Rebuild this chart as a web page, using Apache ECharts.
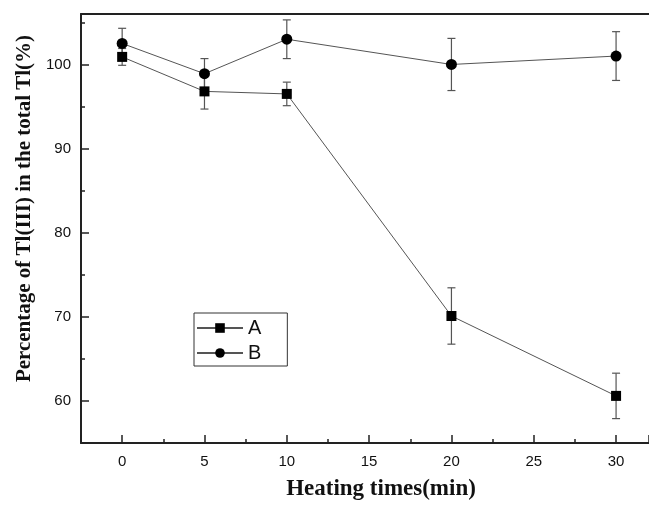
<!DOCTYPE html>
<html><head><meta charset="utf-8">
<script src="https://cdn.jsdelivr.net/npm/echarts@6/dist/echarts.min.js"></script>
<style>html,body{margin:0;padding:0;background:#fff}#c{width:649px;height:506px}</style>
</head><body><div id="c"></div>
<script>
const times = [0, 5, 10, 20, 30];
const seriesA = [100.9, 96.8, 96.5, 70.1, 60.6];
const errA = [1.0, 2.1, 1.4, 3.35, 2.7];
const seriesB = [102.5, 98.9, 103.0, 100.0, 101.0];
const errB = [1.8, 1.8, 2.3, 3.1, 2.9];
const xName = 'Heating times(min)';
const yName = 'Percentage of Tl(III) in the total Tl(%)';

const chart = echarts.init(document.getElementById('c'), null, {renderer: 'canvas'});
function errData(vals, errs) { return times.map((t, i) => [t, vals[i] - errs[i], vals[i] + errs[i]]); }
function renderErr(params, api) {
  const x = api.value(0);
  const lo = api.coord([x, api.value(1)]);
  const hi = api.coord([x, api.value(2)]);
  const w = 4;
  const style = {stroke: '#555', lineWidth: 1.2};
  return {type: 'group', children: [
    {type: 'line', shape: {x1: lo[0], y1: lo[1], x2: hi[0], y2: hi[1]}, style},
    {type: 'line', shape: {x1: lo[0] - w, y1: lo[1], x2: lo[0] + w, y2: lo[1]}, style},
    {type: 'line', shape: {x1: hi[0] - w, y1: hi[1], x2: hi[0] + w, y2: hi[1]}, style}
  ]};
}
const axisColor = '#222';
const option = {
  animation: false,
  backgroundColor: '#fff',
  grid: {left: 81, top: 14, right: 0, height: 432},
  legend: {
    data: ['A', 'B'], orient: 'vertical', left: 194, top: 313,
    itemWidth: 46, itemHeight: 12, itemGap: 5, padding: [5, 26, 3, 2],
    borderColor: '#333', borderWidth: 1,
    textStyle: {fontSize: 20, fontFamily: 'Liberation Sans', color: '#111', lineHeight: 20}
  },
  xAxis: [{
    type: 'value', min: -2.5, max: 32, splitNumber: 7,
    axisLine: {onZero: false, lineStyle: {color: axisColor, width: 2}},
    axisTick: {inside: true, length: 8, lineStyle: {color: axisColor, width: 1.5}},
    minorTick: {show: true, splitNumber: 2, length: 4, lineStyle: {color: axisColor, width: 1.5}},
    splitLine: {show: false},
    axisLabel: {margin: 11, color: '#111', fontSize: 15, fontFamily: 'Liberation Sans', showMinLabel: false, showMaxLabel: false},
    name: xName, nameLocation: 'middle', nameGap: 35,
    nameTextStyle: {fontSize: 23, fontWeight: 'bold', fontFamily: 'Liberation Serif', color: '#111', padding: [0, 0, 0, 32]}
  }, {
    type: 'value', position: 'top', min: -2.5, max: 32,
    axisLine: {show: true, onZero: false, lineStyle: {color: axisColor, width: 2}},
    axisTick: {show: false}, axisLabel: {show: false}, splitLine: {show: false}
  }],
  yAxis: {
    type: 'value', min: 55, max: 106,
    axisLine: {onZero: false, lineStyle: {color: axisColor, width: 2}},
    axisTick: {inside: true, length: 8, lineStyle: {color: axisColor, width: 1.5}},
    minorTick: {show: true, splitNumber: 2, length: 4, lineStyle: {color: axisColor, width: 1.5}},
    splitLine: {show: false},
    axisLabel: {margin: 10, color: '#111', fontSize: 15, fontFamily: 'Liberation Sans', showMinLabel: false, showMaxLabel: false},
    name: yName, nameLocation: 'middle', nameGap: 40,
    nameTextStyle: {fontSize: 21, fontWeight: 'bold', fontFamily: 'Liberation Serif', color: '#111', padding: [0, 0, 0, 40]}
  },
  series: [
    {type: 'custom', name: 'errA', renderItem: renderErr, data: errData(seriesA, errA), z: 1, silent: true},
    {type: 'custom', name: 'errB', renderItem: renderErr, data: errData(seriesB, errB), z: 1, silent: true},
    {type: 'line', name: 'A', data: times.map((t, i) => [t, seriesA[i]]), symbol: 'rect', symbolSize: 10,
     lineStyle: {color: '#555', width: 1}, itemStyle: {color: '#000'}, z: 3},
    {type: 'line', name: 'B', data: times.map((t, i) => [t, seriesB[i]]), symbol: 'circle', symbolSize: 11,
     lineStyle: {color: '#555', width: 1}, itemStyle: {color: '#000'}, z: 3}
  ]
};
chart.setOption(option);
</script></body></html>
